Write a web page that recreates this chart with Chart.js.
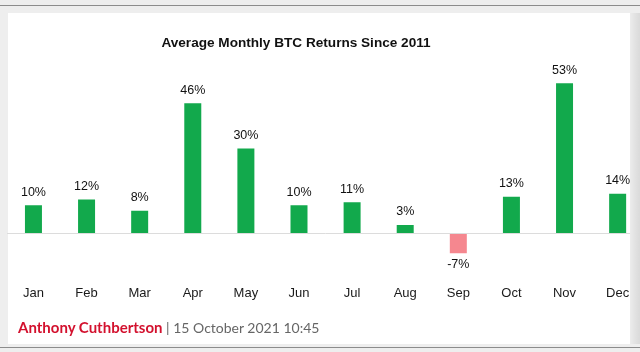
<!DOCTYPE html>
<html>
<head>
<meta charset="utf-8">
<script src="https://cdn.jsdelivr.net/npm/chart.js@4.4.1/dist/chart.umd.min.js"></script>
<style>
  html, body { margin: 0; padding: 0; width: 640px; height: 352px; overflow: hidden; background: #eeeeee; }
  #topline { position: absolute; left: 0; top: 5px; width: 640px; height: 1px; background: #8c8c8c; }
  #panel { position: absolute; left: 8px; top: 13px; width: 632px; height: 331px; background: #ffffff; }
  #botline { position: absolute; left: 0; top: 347px; width: 640px; height: 1px; background: #8c8c8c; }
  #wrap { position: absolute; left: 0; top: 0; width: 660px; height: 352px; }
  #shadow { position: absolute; left: 630px; top: 13px; width: 10px; height: 331px;
            background: linear-gradient(to right, #ececec, #e2e2e2 50%, #dadada); }
  #title { position: absolute; left: 96px; width: 400px; top: 35px; text-align: center;
           font: bold 13.6px "Liberation Sans", Arial, sans-serif; color: #111; }
  #byline { position: absolute; left: 18px; top: 318px; font: 14px Lato, "Open Sans", sans-serif; color: #666; }
  #byline b { color: #d3112e; font-weight: bold; font-size: 15px; }
</style>
</head>
<body>
<div id="topline"></div>
<div id="panel"></div>
<div id="botline"></div>
<div id="wrap"><canvas id="c"></canvas></div>
<div id="shadow"></div>
<div id="title">Average Monthly BTC Returns Since 2011</div>
<div id="byline"><b>Anthony Cuthbertson</b> | 15 October 2021 10:45</div>
<script>
const months = ["Jan","Feb","Mar","Apr","May","Jun","Jul","Aug","Sep","Oct","Nov","Dec"];
const returns = [10, 12, 8, 46, 30, 10, 11, 3, -7, 13, 53, 14];
const valueLabels = ["10%","12%","8%","46%","30%","10%","11%","3%","-7%","13%","53%","14%"];

const GREEN = "#12a94c";
const PINK = "#f5878f";

const valueLabelPlugin = {
  id: "valueLabels",
  afterDatasetsDraw(chart) {
    const ctx = chart.ctx;
    const meta = chart.getDatasetMeta(0);
    ctx.save();
    ctx.font = "12.5px 'Liberation Sans', Arial, sans-serif";
    ctx.fillStyle = "#111";
    ctx.textAlign = "center";
    ctx.textBaseline = "middle";
    meta.data.forEach((bar, i) => {
      const v = returns[i];
      const y = v >= 0 ? bar.y - 13 : bar.y + 11;
      ctx.fillText(valueLabels[i], bar.x, y);
    });
    ctx.restore();
  }
};

new Chart(document.getElementById("c"), {
  type: "bar",
  data: {
    labels: months,
    datasets: [{
      data: returns,
      backgroundColor: returns.map(v => v >= 0 ? GREEN : PINK),
      borderWidth: 0,
      barPercentage: 0.32,
      categoryPercentage: 1
    }]
  },
  options: {
    responsive: true,
    maintainAspectRatio: false,
    devicePixelRatio: 1,
    animation: false,
    layout: { padding: { top: 63.5, bottom: 49.9, left: 6.9, right: 15.8 } },
    plugins: { legend: { display: false }, tooltip: { enabled: false }, title: { display: false } },
    scales: {
      x: {
        grid: { display: false, drawTicks: false },
        border: { display: false },
        ticks: { padding: 1, color: "#1a1a1a", font: { family: "'Liberation Sans', Arial, sans-serif", size: 13 } }
      },
      y: {
        min: -18,
        max: 60,
        ticks: { display: false, stepSize: 6 },
        border: { display: false },
        grid: {
          drawTicks: false,
          color: c => (c.tick && c.tick.value === 0) ? "#dcdcdc" : "rgba(0,0,0,0)",
          lineWidth: 1
        }
      }
    }
  },
  plugins: [valueLabelPlugin]
});
</script>
</body>
</html>
